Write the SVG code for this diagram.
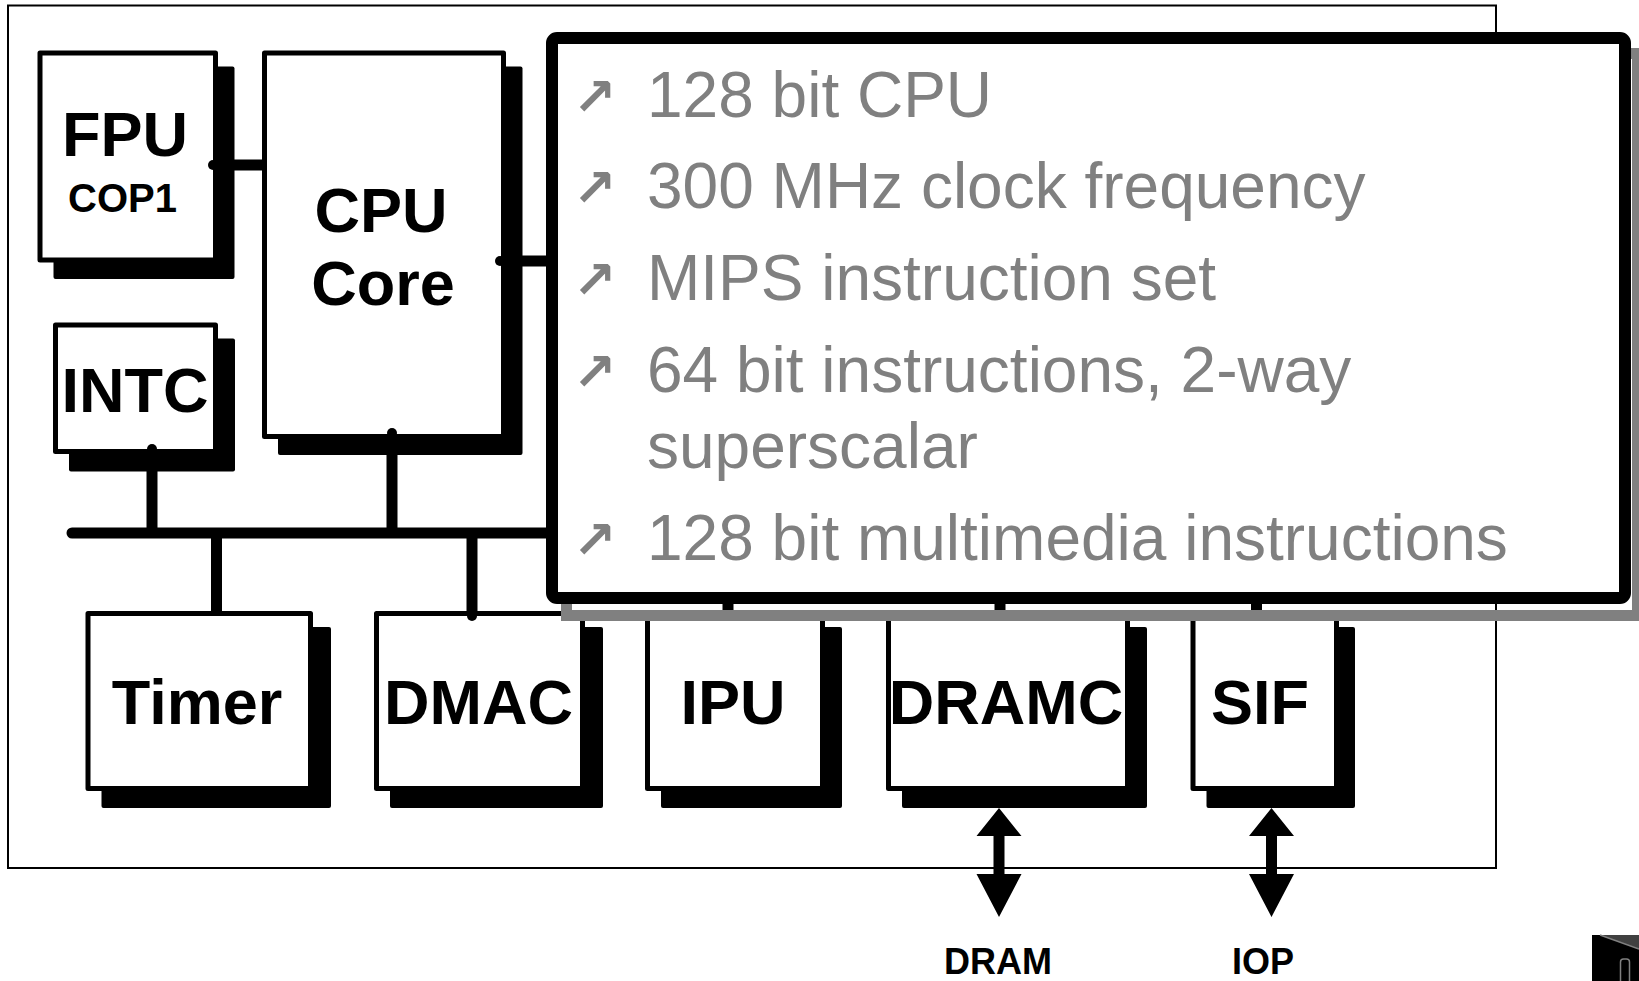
<svg xmlns="http://www.w3.org/2000/svg" width="1639" height="981" viewBox="0 0 1639 981">
<style>
.box{fill:#fff;stroke:#000;stroke-width:5;stroke-linejoin:round}
.shd{fill:#000}
.lbl{font-family:"Liberation Sans",Arial,sans-serif;font-weight:bold;fill:#000;text-anchor:middle}
.big{font-size:63px}
.bt{font-family:"Liberation Sans",Arial,sans-serif;font-size:64px;fill:#808080}
.bu{font-family:"DejaVu Sans",sans-serif;font-size:52px;font-weight:bold;fill:#808080}
.wire{stroke:#000;stroke-width:11;fill:none}
.dot{fill:#000}
</style>
<rect x="8" y="5.5" width="1488" height="862.5" fill="#fff" stroke="#000" stroke-width="2"/>
<g id="connectors">
  <line class="wire" x1="72" y1="533" x2="1300" y2="533" stroke-linecap="round"/>
  <line class="wire" x1="213" y1="165" x2="264" y2="165"/>
  <line class="wire" x1="500" y1="261" x2="550" y2="261"/>
  <line class="wire" x1="392" y1="433" x2="392" y2="533"/>
  <line class="wire" x1="152" y1="449" x2="152" y2="533"/>
  <line class="wire" x1="216.5" y1="533" x2="216.5" y2="612"/>
  <line class="wire" x1="472" y1="533" x2="472" y2="616"/>
  <line class="wire" x1="728" y1="533" x2="728" y2="612"/>
  <line class="wire" x1="1000" y1="533" x2="1000" y2="612"/>
  <line class="wire" x1="1256.5" y1="533" x2="1256.5" y2="612"/>
  <path d="M999 808 L1021.5 836 L1004.5 836 L1004.5 874 L1021.5 874 L999 917 L976.5 874 L993.5 874 L993.5 836 L976.5 836 Z" fill="#000"/>
  <path d="M1271.5 808 L1294 836 L1277 836 L1277 874 L1294 874 L1271.5 917 L1249 874 L1266 874 L1266 836 L1249 836 Z" fill="#000"/>
</g>
<g id="fpu">
  <rect class="shd" x="53.5" y="66.5" width="181" height="212.5" rx="2"/>
  <rect class="box" x="40" y="53" width="175.5" height="207"/>
  <circle class="dot" cx="213" cy="165" r="5"/>
  <text class="lbl big" x="125" y="156">FPU</text>
  <text class="lbl" x="122.5" y="212" font-size="40">COP1</text>
</g>
<g id="cpu">
  <rect class="shd" x="278" y="66.5" width="244.5" height="388.5" rx="2"/>
  <rect class="box" x="264.5" y="53" width="239" height="383.5"/>
  <circle class="dot" cx="500" cy="261" r="5"/>
  <circle class="dot" cx="392" cy="433" r="5"/>
  <text class="lbl big" x="381" y="232">CPU</text>
  <text class="lbl big" x="383" y="305">Core</text>
</g>
<g id="intc">
  <rect class="shd" x="69" y="338.5" width="166" height="133" rx="2"/>
  <rect class="box" x="55.5" y="325" width="160" height="126.5"/>
  <circle class="dot" cx="152" cy="449" r="5"/>
  <text class="lbl big" x="135" y="412">INTC</text>
</g>
<g id="timer">
  <rect class="shd" x="101.5" y="627" width="229.5" height="181" rx="2"/>
  <rect class="box" x="88" y="613.5" width="222.5" height="175"/>
  <text class="lbl big" x="197" y="724">Timer</text>
</g>
<g id="dmac">
  <rect class="shd" x="390" y="627" width="213" height="181" rx="2"/>
  <rect class="box" x="376.5" y="613.5" width="206" height="175"/>
  <circle class="dot" cx="472" cy="616" r="5"/>
  <text class="lbl big" x="478.5" y="724">DMAC</text>
</g>
<g id="ipu">
  <rect class="shd" x="661" y="627" width="181" height="181" rx="2"/>
  <rect class="box" x="647.5" y="613.5" width="175" height="175"/>
  <text class="lbl big" x="733" y="724">IPU</text>
</g>
<g id="dramc">
  <rect class="shd" x="902" y="627" width="245" height="181" rx="2"/>
  <rect class="box" x="888.5" y="613.5" width="239" height="175"/>
  <text class="lbl big" x="1006" y="724">DRAMC</text>
</g>
<g id="sif">
  <rect class="shd" x="1206.5" y="627" width="148.5" height="181" rx="2"/>
  <rect class="box" x="1193" y="613.5" width="143.5" height="175"/>
  <text class="lbl big" x="1260" y="724">SIF</text>
</g>
<g id="dram">
  <text class="lbl" x="998" y="974" font-size="36">DRAM</text>
</g>
<g id="iop">
  <text class="lbl" x="1263" y="974" font-size="36">IOP</text>
</g>
<g id="features">
  <rect x="566.5" y="53.5" width="1071" height="562" fill="none" stroke="#808080" stroke-width="11"/>
  <rect x="552" y="38" width="1073" height="560" rx="5" fill="#fff" stroke="#000" stroke-width="12"/>
  <text class="bu" x="573" y="115">↗</text>
  <text class="bu" x="573" y="206">↗</text>
  <text class="bu" x="573" y="298">↗</text>
  <text class="bu" x="573" y="390">↗</text>
  <text class="bu" x="573" y="558">↗</text>
  <text class="bt" x="647" y="117">128 bit CPU</text>
  <text class="bt" x="647" y="208">300 MHz clock frequency</text>
  <text class="bt" x="647" y="300">MIPS instruction set</text>
  <text class="bt" x="647" y="392">64 bit instructions, 2-way</text>
  <text class="bt" x="647" y="468">superscalar</text>
  <text class="bt" x="647" y="560">128 bit multimedia instructions</text>
</g>
<g id="corner-icon">
  <rect x="1592" y="935" width="47" height="46" fill="#000"/>
  <path d="M1600 935 L1639 935 L1639 949 Z" fill="#404040"/>
  <path d="M1600 935 L1639 949" stroke="#808080" stroke-width="1.5"/>
  <rect x="1620.5" y="959" width="9" height="26" rx="3" fill="#000" stroke="#808080" stroke-width="1.5"/>
</g>
</svg>
